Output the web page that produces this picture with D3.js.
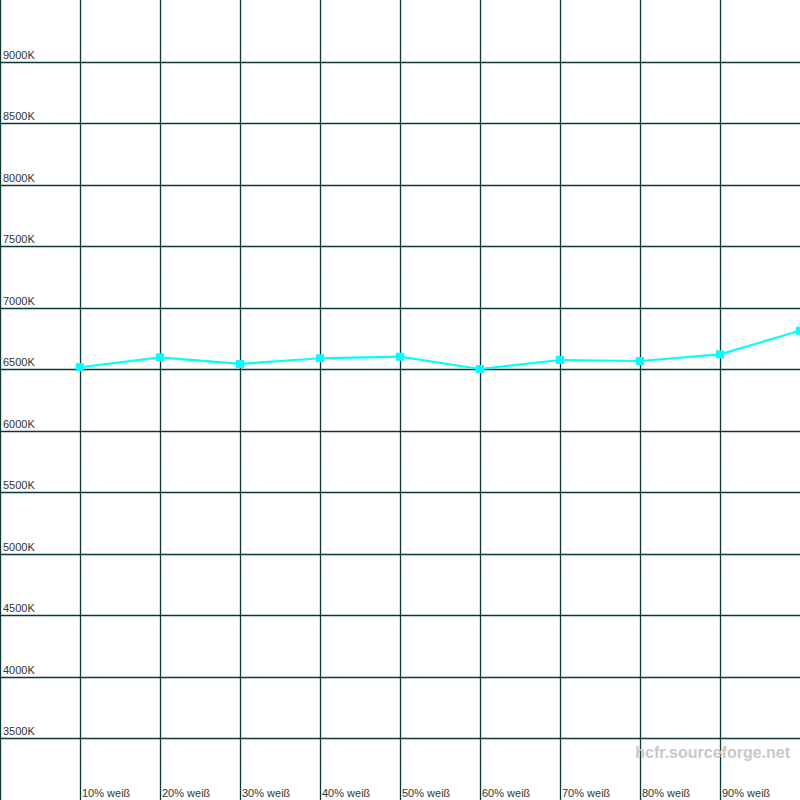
<!DOCTYPE html>
<html><head><meta charset="utf-8">
<script src="https://cdn.jsdelivr.net/npm/d3@7"></script>
<style>html,body{margin:0;padding:0;background:#fff;overflow:hidden}</style>
</head><body>
<svg id="c" width="800" height="800"></svg>
<script>
const categories = ["10% weiß","20% weiß","30% weiß","40% weiß","50% weiß","60% weiß","70% weiß","80% weiß","90% weiß","100% weiß"];
const percent = [10,20,30,40,50,60,70,80,90,100];
const colorTemp = [6516,6597,6543,6589,6602,6502,6575,6567,6621,6813];
const yTicks = [3500,4000,4500,5000,5500,6000,6500,7000,7500,8000,8500,9000];
const xGrid = [0,10,20,30,40,50,60,70,80,90];

const W = 800, H = 800;
const svg = d3.select("#c");
const x = d3.scaleLinear().domain([0,100]).range([0,W]);
const y = d3.scaleLinear().domain([3000,9500]).range([H,0]);
const gridColor = "#083a3a";
const txt = "#333";

// horizontal grid + labels
const yAxis = svg.append("g");
yAxis.selectAll("line").data(yTicks).join("line")
  .attr("x1",0).attr("x2",W)
  .attr("y1",d=>Math.round(y(d))+0.5).attr("y2",d=>Math.round(y(d))+0.5)
  .attr("stroke",gridColor).attr("stroke-width",1.3);
yAxis.selectAll("text").data(yTicks).join("text")
  .attr("x",3).attr("y",d=>Math.round(y(d))-3)
  .attr("font-family","Liberation Sans, Arial, sans-serif").attr("font-size",11)
  .attr("fill",txt).text(d=>d+"K");

// vertical grid
svg.append("g").selectAll("line").data(xGrid).join("line")
  .attr("x1",d=>Math.round(x(d))+0.5).attr("x2",d=>Math.round(x(d))+0.5)
  .attr("y1",0).attr("y2",H)
  .attr("stroke",gridColor).attr("stroke-width",1.3);

// x labels (only those inside the visible plot)
const labelData = categories.map((c,i)=>({c, p:percent[i]})).filter(d=>x(d.p) < W-20);
svg.append("g").selectAll("text").data(labelData).join("text")
  .attr("x",d=>x(d.p)+2).attr("y",797)
  .attr("font-family","Liberation Sans, Arial, sans-serif").attr("font-size",11)
  .attr("fill",txt).text(d=>d.c);

// watermark
svg.append("text").attr("x",790).attr("y",758).attr("text-anchor","end")
  .attr("font-family","Liberation Sans, Arial, sans-serif").attr("font-weight","bold")
  .attr("font-size",16).attr("fill","#c8c8c8").text("hcfr.sourceforge.net");

// series
const pts = percent.map((p,i)=>[x(p),y(colorTemp[i])]);
svg.append("path").attr("d",d3.line()(pts))
  .attr("fill","none").attr("stroke","#00ffff").attr("stroke-width",2.2);
svg.append("g").selectAll("rect").data(pts).join("rect")
  .attr("x",d=>d[0]-4).attr("y",d=>d[1]-4).attr("width",8).attr("height",8)
  .attr("fill","#00ffff");
</script>
</body></html>
